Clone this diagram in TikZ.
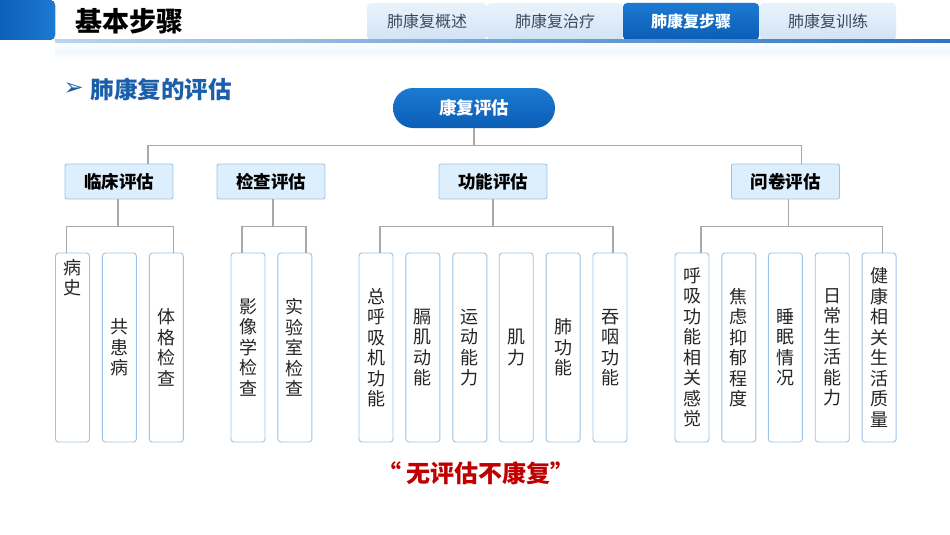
\documentclass[tikz,border=0pt]{standalone}
\usepackage{fontspec}
\setmainfont{Noto Sans CJK SC}
\newfontfamily\symfont{DejaVu Sans}
\usetikzlibrary{positioning,calc}

\definecolor{hdrblue}{HTML}{0B5DB5}
\definecolor{hdrblueB}{HTML}{1C7AD2}
\definecolor{tabtop}{HTML}{EAF3FC}
\definecolor{tabbot}{HTML}{D2E3F6}
\definecolor{tabtext}{HTML}{3B4B5E}
\definecolor{subblue}{HTML}{1B5FAA}
\definecolor{linegray}{HTML}{A9A9A9}
\definecolor{boxedge}{HTML}{9CC4E8}
\definecolor{catfill}{HTML}{DDEEFC}
\definecolor{quotered}{HTML}{C00000}

\tikzset{
  conn/.style={draw=linegray, line width=1.2pt},
  tabbox/.style={top color=tabtop, bottom color=tabbot, rounded corners=4pt,
    minimum height=37pt, inner sep=0pt, text=tabtext,
    font=\fontsize{16}{18}\selectfont},
  catbox/.style={draw=boxedge, fill=catfill, line width=0.9pt, rounded corners=2pt,
    minimum width=108pt, minimum height=35pt, inner sep=0pt,
    font=\fontsize{17.5}{20}\selectfont\bfseries},
  leaf/.style={draw=boxedge, fill=white, line width=0.9pt, rounded corners=3pt,
    minimum width=34pt, minimum height=189pt, inner sep=0pt, align=center,
    text=black!85, font=\fontsize{18}{20.5}\selectfont},
}

\begin{document}
\begin{tikzpicture}[x=1pt,y=-1pt]
  \useasboundingbox (0,0) rectangle (950,535);
  \fill[white] (0,0) rectangle (950,535);

  % header strip and tabs
  \fill[top color=white, bottom color=white, middle color=tabtop!60] (55,42) rectangle (950,60);
  \fill[left color=hdrblue, right color=hdrblueB, rounded corners=5pt] (-6,0) rectangle (55,40);
  \node[font=\fontsize{27}{30}\selectfont\bfseries] (title) at (129,21) {基本步骤};
  \node[tabbox, minimum width=120pt] (tab1) at (427,21.5) {肺康复概述};
  \node[tabbox, minimum width=136pt] (tab2) at (555,21.5) {肺康复治疗};
  \node[tabbox, minimum width=136pt, top color=hdrblueB, bottom color=hdrblue,
    text=white, font=\fontsize{16}{18}\selectfont\bfseries] (tab3) at (691,21.5) {肺康复步骤};
  \node[tabbox, minimum width=136pt] (tab4) at (828,21.5) {肺康复训练};
  \fill[left color=boxedge!70, right color=hdrblue!85] (55,39.5) rectangle (950,42.5);

  % subtitle
  \node[anchor=west, text=subblue, font=\fontsize{24}{26}\selectfont\symfont\bfseries] (arrowmark) at (60,89) {➢};
  \node[anchor=west, text=subblue, font=\fontsize{23.5}{26}\selectfont\bfseries] (subtitle) at (87,89) {肺康复的评估};

  % root
  \node[top color=hdrblueB, bottom color=hdrblue, rounded corners=20pt,
    minimum width=162pt, minimum height=40pt, inner sep=0pt, text=white,
    font=\fontsize{17.5}{20}\selectfont\bfseries] (root) at (474,108) {康复评估};

  % categories
  \node[catbox] (lc) at (119,181.5) {临床评估};
  \node[catbox] (jc) at (271,181.5) {检查评估};
  \node[catbox] (gn) at (493,181.5) {功能评估};
  \node[catbox] (wj) at (785.5,181.5) {问卷评估};

  \draw[conn] (root.south) -- ++(0,18);
  \draw[conn] ([xshift=29pt]lc.north) -- ++(0,-18) -| ([xshift=16pt]wj.north);

  % leaves: clinical
  \node[leaf] (bs) at (72.5,347.5) {};
  \node[below=3pt of bs.north, align=center, text=black!85,
    font=\fontsize{18}{20.5}\selectfont] (bstxt) {病\\史};
  \node[leaf, right=12pt of bs] (ghb) {共\\患\\病};
  \node[leaf, right=12pt of ghb] (tgjc) {体\\格\\检\\查};
  % leaves: examination
  \node[leaf] (yxjc) at (248,347.5) {影\\像\\学\\检\\查};
  \node[leaf, right=12pt of yxjc] (sysjc) {实\\验\\室\\检\\查};
  % leaves: function
  \node[leaf] (hxj) at (376,347.5) {总\\呼\\吸\\机\\功\\能};
  \node[leaf, right=12pt of hxj] (gj) {膈\\肌\\动\\能};
  \node[leaf, right=12pt of gj] (ydnl) {运\\动\\能\\力};
  \node[leaf, right=11.5pt of ydnl] (jl) {肌\\力};
  \node[leaf, right=12pt of jl] (fgn) {肺\\功\\能};
  \node[leaf, right=12pt of fgn] (tygn) {吞\\咽\\功\\能};
  % leaves: questionnaire
  \node[leaf] (hxgj) at (692,347.5) {呼\\吸\\功\\能\\相\\关\\感\\觉};
  \node[leaf, right=12pt of hxgj] (jlyy) {焦\\虑\\抑\\郁\\程\\度};
  \node[leaf, right=11.5pt of jlyy] (smqk) {睡\\眠\\情\\况};
  \node[leaf, right=12pt of smqk] (rcsh) {日\\常\\生\\活\\能\\力};
  \node[leaf, right=12pt of rcsh] (jkzl) {健\\康\\相\\关\\生\\活\\质\\量};

  \draw[conn] ([xshift=-1pt]lc.south) -- ++(0,28);
  \draw[conn] ([xshift=-6pt]bs.north) -- ++(0,-26) -| ([xshift=7pt]tgjc.north);
  \draw[conn] ([xshift=2pt]jc.south) -- ++(0,28);
  \draw[conn] ([xshift=-6pt]yxjc.north) -- ++(0,-26) -| ([xshift=11pt]sysjc.north);
  \draw[conn] (gn.south) -- ++(0,28);
  \draw[conn] ([xshift=4pt]hxj.north) -- ++(0,-26) -| ([xshift=3pt]tygn.north);
  \draw[conn] ([xshift=3pt]wj.south) -- ++(0,28);
  \draw[conn] ([xshift=9pt]hxgj.north) -- ++(0,-26) -| ([xshift=3pt]jkzl.north);

  % motto
  \node[text=quotered, font=\fontsize{24}{27}\selectfont\bfseries] (motto) at (476,473) {“ 无评估不康复”};
\end{tikzpicture}
\end{document}
